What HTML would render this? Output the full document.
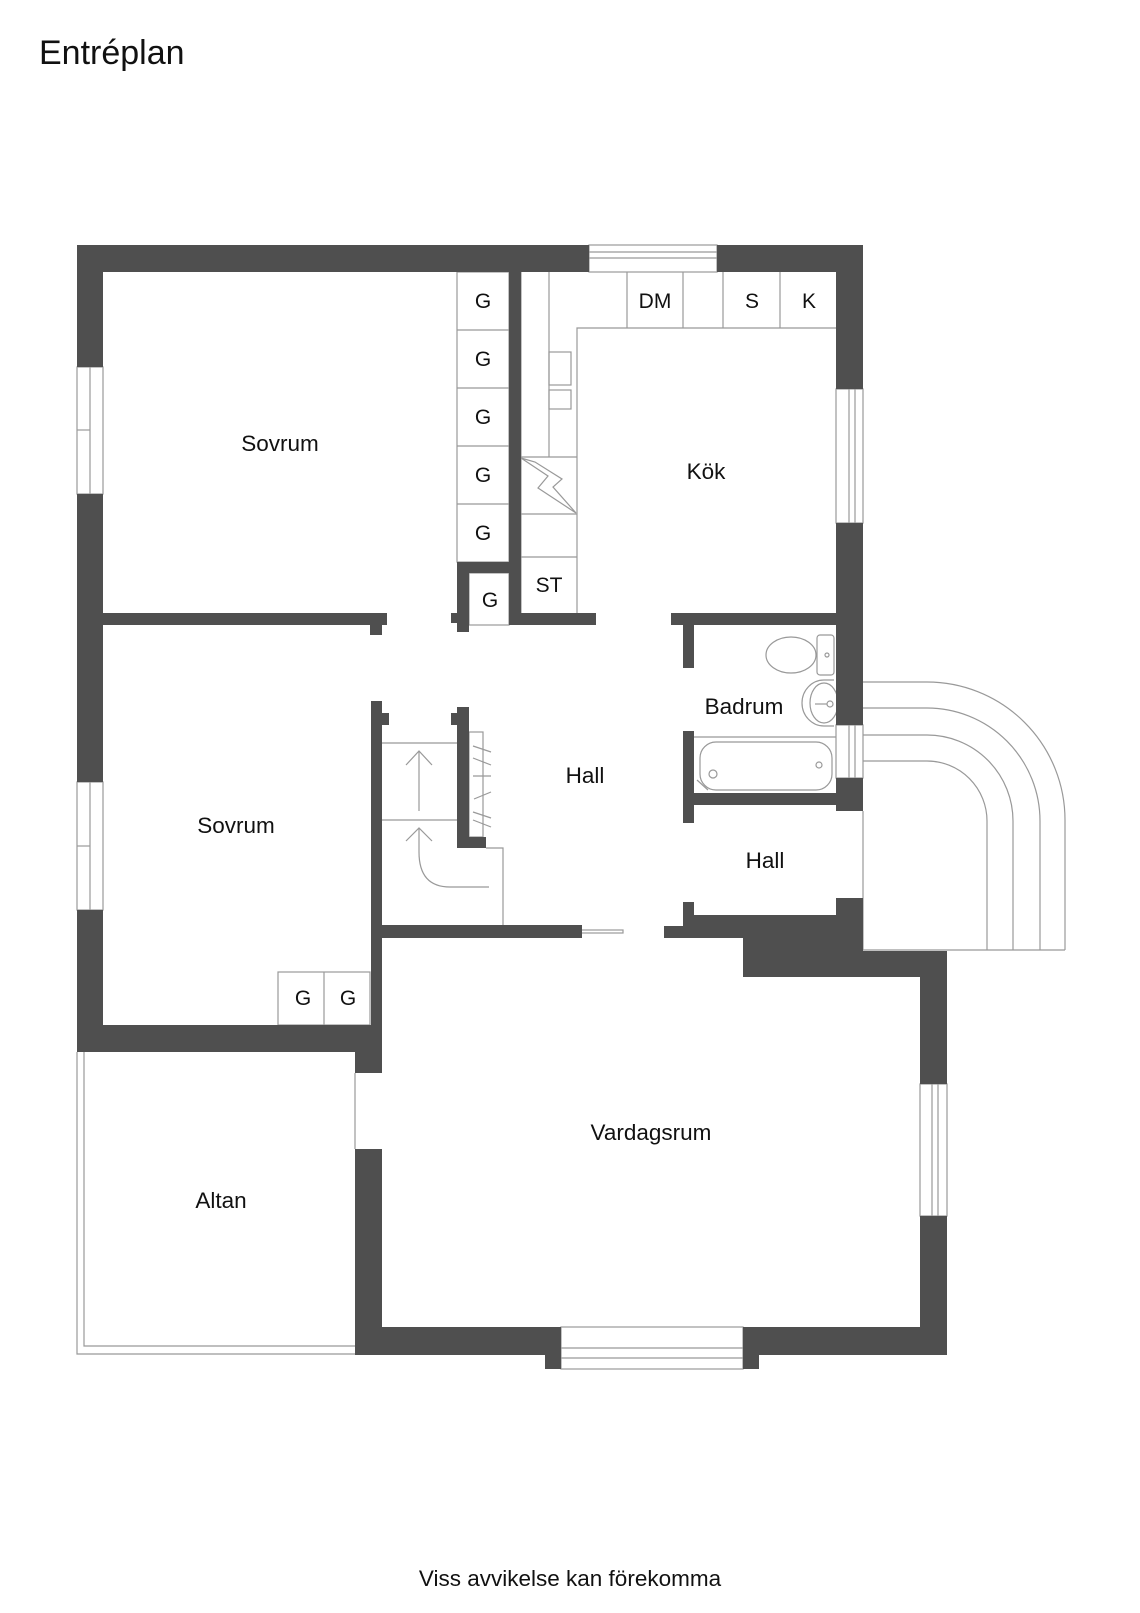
<!DOCTYPE html>
<html><head><meta charset="utf-8"><style>
html,body{margin:0;padding:0;background:#fff}
svg{display:block}
text{font-family:"Liberation Sans",Arial,sans-serif;fill:#111}
</style></head><body>
<svg width="1140" height="1613" viewBox="0 0 1140 1613" xmlns="http://www.w3.org/2000/svg">
<rect width="1140" height="1613" fill="#fff"/>
<text x="39" y="64" font-size="34">Entréplan</text>
<text x="570" y="1586" font-size="22.5" text-anchor="middle">Viss avvikelse kan förekomma</text>

<g fill="none" stroke="#999" stroke-width="1.2">
  <rect x="589" y="245" width="128" height="27"/>
  <line x1="589" y1="252" x2="717" y2="252"/><line x1="589" y1="258" x2="717" y2="258"/>
  <rect x="77" y="367" width="26" height="127"/><line x1="90" y1="367" x2="90" y2="494"/><line x1="77" y1="430" x2="90" y2="430"/>
  <rect x="77" y="782" width="26" height="128"/><line x1="90" y1="782" x2="90" y2="910"/><line x1="77" y1="846" x2="90" y2="846"/>
  <rect x="836" y="389" width="27" height="134"/><line x1="849" y1="389" x2="849" y2="523"/><line x1="855" y1="389" x2="855" y2="523"/>
  <rect x="836" y="725" width="27" height="53"/><line x1="849" y1="725" x2="849" y2="778"/><line x1="855" y1="725" x2="855" y2="778"/>
  <rect x="920" y="1084" width="27" height="132"/><line x1="932" y1="1084" x2="932" y2="1216"/><line x1="938" y1="1084" x2="938" y2="1216"/>
  <rect x="561" y="1327" width="182" height="42"/><line x1="561" y1="1348" x2="743" y2="1348"/><line x1="561" y1="1358" x2="743" y2="1358"/>
  <rect x="457" y="272" width="52" height="290"/>
  <line x1="457" y1="330" x2="509" y2="330"/><line x1="457" y1="388" x2="509" y2="388"/>
  <line x1="457" y1="446" x2="509" y2="446"/><line x1="457" y1="504" x2="509" y2="504"/>
  <rect x="469" y="573" width="40" height="52"/>
  <polyline points="521,272 521,613"/>
  <line x1="549" y1="272" x2="549" y2="457"/>
  <polyline points="577,613 577,328 836,328"/>
  <line x1="627" y1="272" x2="627" y2="328"/><line x1="683" y1="272" x2="683" y2="328"/>
  <line x1="723" y1="272" x2="723" y2="328"/><line x1="780" y1="272" x2="780" y2="328"/>
  <rect x="549" y="352" width="22" height="33"/><rect x="549" y="390" width="22" height="19"/>
  <line x1="521" y1="457" x2="577" y2="457"/><line x1="521" y1="514" x2="577" y2="514"/><line x1="521" y1="557" x2="577" y2="557"/>
  <polyline points="521,458 548,476 538,488 576,513 553,487 562,479 535,462 521,458"/>
  <line x1="382" y1="743" x2="457" y2="743"/><line x1="382" y1="820" x2="457" y2="820"/>
  <line x1="419" y1="751" x2="419" y2="811"/><polyline points="406,765 419,751 432,765"/>
  <path d="M489,887 L450,887 Q419,887 419,852 L419,828"/><polyline points="406,841 419,828 432,841"/>
  <polyline points="486,848 503,848 503,925"/>
  <rect x="469" y="732" width="14" height="105"/>
  <line x1="473" y1="746" x2="491" y2="752"/><line x1="473" y1="758" x2="491" y2="765"/>
  <line x1="473" y1="776" x2="491" y2="776"/><line x1="474" y1="799" x2="491" y2="792"/>
  <line x1="473" y1="812" x2="491" y2="818"/><line x1="473" y1="820" x2="491" y2="827"/>
  <rect x="542" y="930" width="81" height="3" fill="#fff"/>
  <line x1="694" y1="737" x2="836" y2="737"/>
  <rect x="700" y="742" width="132" height="48" rx="16"/>
  <circle cx="819" cy="765" r="3"/>
  <circle cx="713" cy="774" r="4"/><line x1="697" y1="780" x2="708" y2="790"/>
  <rect x="817" y="635" width="17" height="40" rx="3"/><circle cx="827" cy="655" r="2"/>
  <ellipse cx="791" cy="655" rx="25" ry="18"/>
  <path d="M834,680 L824,680 A22,23 0 0 0 824,726 L834,726"/>
  <ellipse cx="824" cy="703" rx="14" ry="20"/><circle cx="830" cy="704" r="3"/><line x1="815" y1="704" x2="827" y2="704"/>
  <path d="M863,682 L927,682 A138,138 0 0 1 1065,820 L1065,950"/>
  <path d="M863,708 L927,708 A113,113 0 0 1 1040,821 L1040,950"/>
  <path d="M863,735 L927,735 A86,86 0 0 1 1013,821 L1013,950"/>
  <path d="M863,761 L927,761 A60,60 0 0 1 987,821 L987,950"/>
  <polyline points="863,811 863,950 1065,950"/>
  <rect x="278" y="972" width="92" height="53"/><line x1="324" y1="972" x2="324" y2="1025"/>
  <polyline points="77,1052 77,1354 355,1354"/>
  <polyline points="84,1052 84,1346 355,1346"/>
  <line x1="355" y1="1073" x2="355" y2="1149"/>
</g>

<g fill="#4f4f4f">
  <rect x="77" y="245" width="512" height="27"/>
  <rect x="717" y="245" width="146" height="27"/>
  <rect x="77" y="245" width="26" height="122"/>
  <rect x="77" y="494" width="26" height="288"/>
  <rect x="77" y="910" width="26" height="142"/>
  <rect x="836" y="245" width="27" height="144"/>
  <rect x="836" y="523" width="27" height="202"/>
  <rect x="836" y="778" width="27" height="33"/>
  <rect x="103" y="613" width="284" height="12"/>
  <rect x="370" y="613" width="12" height="22"/>
  <rect x="451" y="613" width="18" height="10"/>
  <rect x="457" y="562" width="12" height="70"/>
  <rect x="457" y="562" width="64" height="11"/>
  <rect x="509" y="272" width="12" height="353"/>
  <rect x="509" y="613" width="87" height="12"/>
  <rect x="671" y="613" width="165" height="12"/>
  <rect x="683" y="613" width="11" height="55"/>
  <rect x="683" y="731" width="11" height="92"/>
  <rect x="694" y="793" width="142" height="12"/>
  <rect x="371" y="701" width="11" height="372"/>
  <rect x="382" y="713" width="7" height="12"/>
  <rect x="457" y="707" width="12" height="141"/>
  <rect x="451" y="713" width="6" height="12"/>
  <rect x="457" y="837" width="29" height="11"/>
  <rect x="371" y="925" width="211" height="13"/>
  <polygon points="664,926 683,926 683,902 694,902 694,915 836,915 836,898 863,898 863,951 947,951 947,977 743,977 743,938 664,938"/>
  <rect x="920" y="951" width="27" height="133"/>
  <rect x="920" y="1216" width="27" height="139"/>
  <rect x="77" y="1025" width="305" height="27"/>
  <rect x="355" y="1025" width="27" height="48"/>
  <rect x="355" y="1149" width="27" height="206"/>
  <rect x="355" y="1327" width="206" height="28"/>
  <rect x="743" y="1327" width="204" height="28"/>
  <rect x="545" y="1327" width="16" height="42"/>
  <rect x="743" y="1327" width="16" height="42"/>
</g>

<g font-size="21" text-anchor="middle">
  <text x="483" y="308">G</text><text x="483" y="366">G</text><text x="483" y="424">G</text>
  <text x="483" y="482">G</text><text x="483" y="540">G</text><text x="490" y="607">G</text>
  <text x="549" y="592">ST</text>
  <text x="655" y="308">DM</text><text x="752" y="308">S</text><text x="809" y="308">K</text>
  <text x="303" y="1005">G</text><text x="348" y="1005">G</text>
</g>
<g font-size="22.5" text-anchor="middle">
  <text x="280" y="451">Sovrum</text>
  <text x="236" y="833">Sovrum</text>
  <text x="706" y="479">Kök</text>
  <text x="744" y="714">Badrum</text>
  <text x="585" y="783">Hall</text>
  <text x="765" y="868">Hall</text>
  <text x="221" y="1208">Altan</text>
  <text x="651" y="1140">Vardagsrum</text>
</g>
</svg>
</body></html>
